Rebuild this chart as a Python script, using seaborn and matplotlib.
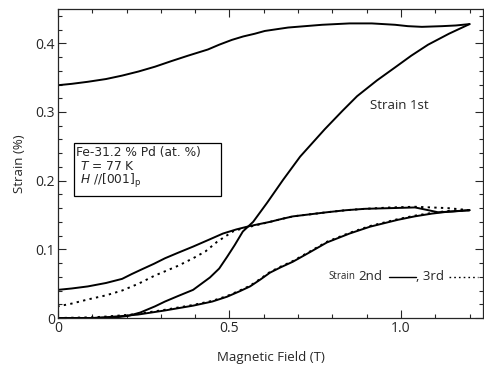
import numpy as np
import pandas as pd
import matplotlib
matplotlib.use("Agg")
import matplotlib.pyplot as plt
import seaborn as sns
from matplotlib.ticker import MultipleLocator
from matplotlib.patches import Rectangle

# 1st run: virgin (increasing field) and decreasing branch
h1_up = [0, 0.1, 0.17, 0.204, 0.24, 0.283, 0.312, 0.35, 0.394, 0.443, 0.47, 0.493,
         0.515, 0.539, 0.569, 0.61, 0.656, 0.706, 0.778, 0.83, 0.872, 0.93, 0.983,
         1.03, 1.079, 1.14, 1.2]
s1_up = [0, 0, 0.001, 0.003, 0.008, 0.017, 0.024, 0.032, 0.041, 0.059, 0.072, 0.089,
         0.106, 0.126, 0.140, 0.168, 0.201, 0.235, 0.275, 0.302, 0.323, 0.346, 0.365,
         0.382, 0.398, 0.414, 0.428]
h1_down = [1.2, 1.16, 1.12, 1.061, 1.02, 0.983, 0.915, 0.85, 0.77, 0.671, 0.603, 0.574,
           0.54, 0.507, 0.47, 0.437, 0.379, 0.33, 0.283, 0.235, 0.187, 0.14, 0.087,
           0.04, 0.0, 0.0]
s1_down = [0.428, 0.426, 0.425, 0.424, 0.425, 0.427, 0.429, 0.429, 0.427, 0.423, 0.418,
           0.414, 0.410, 0.405, 0.398, 0.391, 0.382, 0.374, 0.366, 0.359, 0.353, 0.348,
           0.344, 0.341, 0.339, 0.325]

# 2nd run (solid)
h2_up = [0, 0.1, 0.137, 0.19, 0.233, 0.312, 0.394, 0.45, 0.493, 0.53, 0.56, 0.59,
         0.618, 0.65, 0.685, 0.735, 0.784, 0.85, 0.91, 0.991, 1.04, 1.09, 1.14, 1.2]
s2_up = [0, 0, 0.001, 0.003, 0.005, 0.011, 0.018, 0.024, 0.031, 0.039, 0.046, 0.056,
         0.066, 0.074, 0.082, 0.096, 0.110, 0.123, 0.133, 0.143, 0.148, 0.152, 0.155, 0.157]
h2_down = [1.2, 1.15, 1.108, 1.07, 1.041, 0.97, 0.895, 0.84, 0.784, 0.735, 0.685, 0.65,
           0.618, 0.56, 0.52, 0.481, 0.44, 0.394, 0.35, 0.312, 0.28, 0.245, 0.215,
           0.187, 0.14, 0.087, 0.04, 0.0, 0.0]
s2_down = [0.157, 0.155, 0.154, 0.158, 0.161, 0.160, 0.159, 0.157, 0.154, 0.151, 0.148,
           0.144, 0.140, 0.134, 0.129, 0.123, 0.114, 0.104, 0.095, 0.087, 0.079, 0.071,
           0.064, 0.057, 0.051, 0.046, 0.043, 0.041, 0.033]

# 3rd run (dotted)
h3_up = [0, 0.1, 0.137, 0.19, 0.233, 0.312, 0.394, 0.45, 0.493, 0.53, 0.56, 0.59,
         0.618, 0.65, 0.685, 0.735, 0.784, 0.85, 0.91, 0.991, 1.04, 1.09, 1.14, 1.2]
s3_up = [0, 0.001, 0.002, 0.004, 0.006, 0.012, 0.019, 0.025, 0.032, 0.040, 0.047, 0.057,
         0.067, 0.075, 0.083, 0.097, 0.111, 0.124, 0.134, 0.144, 0.149, 0.153, 0.156, 0.157]
h3_down = [1.2, 1.137, 1.041, 0.97, 0.895, 0.84, 0.784, 0.735, 0.685, 0.65, 0.618, 0.56,
           0.535, 0.51, 0.464, 0.43, 0.394, 0.35, 0.312, 0.283, 0.235, 0.187, 0.14,
           0.087, 0.04, 0.0]
s3_down = [0.157, 0.160, 0.162, 0.161, 0.159, 0.157, 0.154, 0.151, 0.148, 0.144, 0.140,
           0.133, 0.130, 0.126, 0.111, 0.097, 0.087, 0.076, 0.068, 0.062, 0.050, 0.040,
           0.033, 0.027, 0.021, 0.017]

box_lines = ["Fe-31.2 % Pd (at. %)", "$T$ = 77 K", "$H$ //[001]$_\\mathrm{p}$"]

def seg(h, s, name):
    return pd.DataFrame({"field": h, "strain": s, "seg": name})

sns.set_style("ticks")
plt.rcParams['font.family'] = ['Open Sans', 'DejaVu Sans']

fig = plt.figure(figsize=(4.84, 3.67), dpi=100)
ax = fig.add_axes([0.1198, 0.1335, 0.878, 0.842])

dots = (0, (1.2, 2.2))
segments = [
    (seg(h1_up, s1_up, "1u"), "-"),
    (seg(h1_down, s1_down, "1d"), "-"),
    (seg(h3_up, s3_up, "3u"), dots),
    (seg(h3_down, s3_down, "3d"), dots),
    (seg(h2_up, s2_up, "2u"), "-"),
    (seg(h2_down, s2_down, "2d"), "-"),
]
for df, ls in segments:
    sns.lineplot(data=df, x="field", y="strain", sort=False, estimator=None,
                 color="black", lw=1.4, linestyle=ls, ax=ax)

ax.set_xlim(0, 1.239)
ax.set_ylim(0, 0.45)
ax.xaxis.set_minor_locator(MultipleLocator(0.1))
ax.yaxis.set_minor_locator(MultipleLocator(0.02))
ax.set_xticks([0, 0.5, 1.0])
ax.set_xticklabels(["0", "0.5", "1.0"])
ax.set_yticks([0, 0.1, 0.2, 0.3, 0.4])
ax.set_yticklabels(["0", "0.1", "0.2", "0.3", "0.4"])
ax.tick_params(which="both", direction="in", top=True, right=True, labelsize=10, width=0.8)
ax.tick_params(which="major", length=6, pad=2)
ax.tick_params(which="minor", length=3)
for sp in ax.spines.values():
    sp.set_linewidth(0.9)

ax.set_xlabel("Magnetic Field (T)", fontsize=9.5, labelpad=11)
ax.set_ylabel("Strain (%)", fontsize=9.5, labelpad=7)

ax.text(0.995, 0.31, "Strain 1st", fontsize=9.5, ha="center", va="center")

# boxed sample info
ax.add_patch(Rectangle((0.0467, 0.178), 0.428, 0.0767, fill=False, ec="black", lw=0.9))
ax.text(0.0525, 0.2405, box_lines[0], fontsize=8.8, family="DejaVu Sans", va="center")
ax.text(0.064, 0.2205, box_lines[1], fontsize=8.8, family="DejaVu Sans", va="center")
ax.text(0.064, 0.1995, box_lines[2], fontsize=8.8, family="DejaVu Sans", va="center")

# legend-like annotation for 2nd / 3rd
ax.text(0.79, 0.060, "Strain", fontsize=7, ha="left", va="center")
ax.text(0.875, 0.060, "2nd", fontsize=9.5, ha="left", va="center")
ax.plot([0.965, 1.045], [0.060, 0.060], color="black", lw=1.0)
ax.text(1.045, 0.060, ", 3rd", fontsize=9.5, ha="left", va="center")
ax.plot([1.14, 1.225], [0.060, 0.060], color="black", lw=1.0, linestyle=dots)

fig.savefig("out.png", dpi=100)
